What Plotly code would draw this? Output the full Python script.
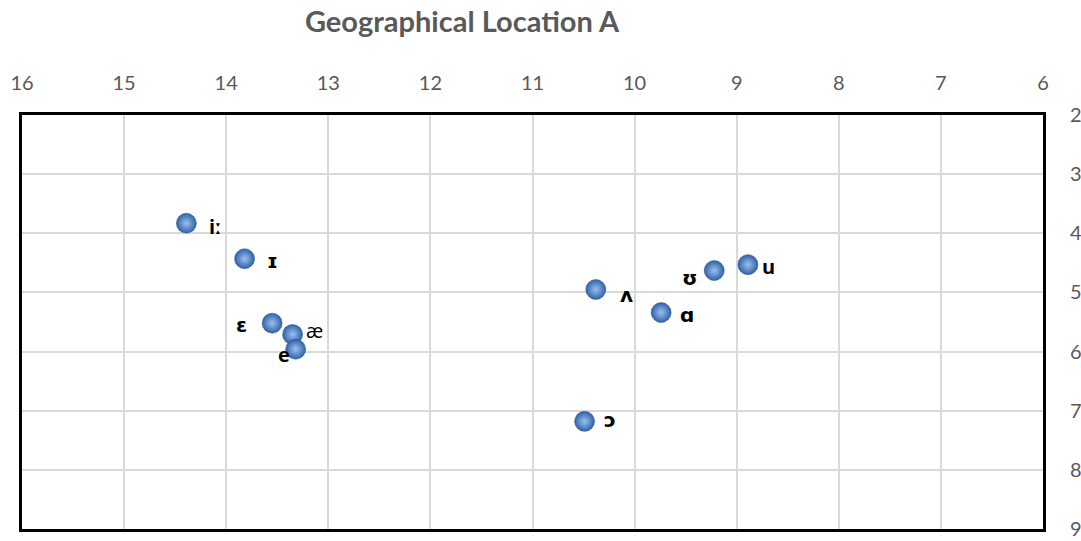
import plotly.graph_objects as go

# Data
vowels = ["iː", "ɪ", "ɛ", "æ", "e", "ʌ", "ɑ", "ʊ", "u", "ɔ"]
x_vals = [14.39, 13.82, 13.55, 13.35, 13.32, 10.38, 9.74, 9.22, 8.89, 10.49]
y_vals = [3.83, 4.43, 5.52, 5.71, 5.96, 4.95, 5.34, 4.63, 4.53, 7.18]
x_ticks = [16, 15, 14, 13, 12, 11, 10, 9, 8, 7, 6]
y_ticks = [2, 3, 4, 5, 6, 7, 8, 9]

# Label placement (pixel offsets) and weights
label_dx = [29, 28, -31, 22, -12, 31, 26, -25, 21, 25]
label_dy = [-3, -2, -1, 4, -5, -5, -2, -7, -2, 2]
label_bold = [True, True, True, False, True, True, True, True, True, True]

fig = go.Figure()
fig.add_trace(go.Scatter(
    x=x_vals, y=y_vals, mode="markers",
    marker=dict(size=20, color="#2F62AA",
                gradient=dict(type="radial", color="#9CC0EE"),
                line=dict(width=0.5, color="#2A4F80")),
    hoverinfo="skip", showlegend=False,
))

for v, x, y, dx, dy, b in zip(vowels, x_vals, y_vals, label_dx, label_dy, label_bold):
    fig.add_annotation(
        x=x, y=y, text=f"<b>{v}</b>" if b else v, showarrow=False,
        xshift=dx, yshift=dy,
        font=dict(family="Open Sans, DejaVu Sans", size=20, color="#000000"),
    )

axis_font = dict(family="Lato, Liberation Sans", size=20, color="#595959")

fig.update_layout(
    width=1081, height=541,
    margin=dict(l=22, r=38, t=115, b=12, autoexpand=False),
    paper_bgcolor="white", plot_bgcolor="white",
    title=dict(text="<b>Geographical Location A</b>", x=0.4274, xanchor="center",
               y=0.959, yanchor="middle",
               font=dict(family="Lato, Liberation Sans", size=29, color="#595959")),
    xaxis=dict(range=[16, 6], side="top", tickvals=x_ticks, ticks="",
               showgrid=True, gridcolor="#D9D9D9", gridwidth=2,
               showline=True, linecolor="black", linewidth=3, mirror=True,
               zeroline=False, tickfont=axis_font, ticklabelstandoff=14,
               automargin=False),
    yaxis=dict(range=[9, 2], side="right", tickvals=y_ticks, ticks="",
               showgrid=True, gridcolor="#D9D9D9", gridwidth=2,
               showline=True, linecolor="black", linewidth=3, mirror=True,
               zeroline=False, tickfont=axis_font, ticklabelstandoff=20,
               automargin=False),
)

fig.write_html("out.html", config={"displayModeBar": False},
               post_script="document.body.style.margin='0';")
